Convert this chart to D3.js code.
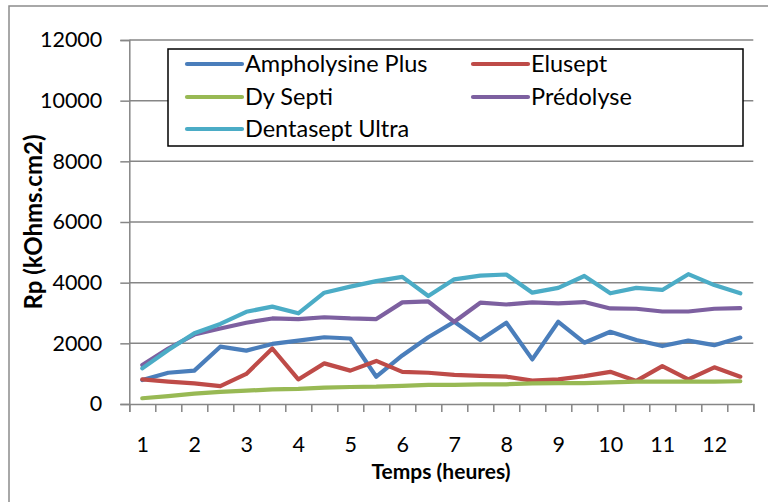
<!DOCTYPE html>
<html><head><meta charset="utf-8">
<script src="https://cdn.jsdelivr.net/npm/d3@7"></script>
<style>body{margin:0;background:#fff}svg{display:block}text{font-family:Lato,"Open Sans",sans-serif}</style>
</head><body>
<svg id="c" width="768" height="502"></svg>
<script>
const hours = [1,1.5,2,2.5,3,3.5,4,4.5,5,5.5,6,6.5,7,7.5,8,8.5,9,9.5,10,10.5,11,11.5,12,12.5];
const hourLabels = [1,2,3,4,5,6,7,8,9,10,11,12];
const yTicks = [0,2000,4000,6000,8000,10000,12000];
const seriesNames = ["Ampholysine Plus","Elusept","Dy Septi","Prédolyse","Dentasept Ultra"];
const seriesColors = ["#4A7EBB","#BE4B48","#98B954","#7D60A0","#4BACC6"];
const ampholysine = [790,1030,1100,1890,1760,1980,2090,2200,2160,900,1600,2200,2710,2110,2680,1470,2710,2020,2380,2110,1910,2090,1940,2190];
const elusept = [810,740,680,590,990,1830,810,1340,1100,1420,1060,1030,960,930,900,770,810,920,1060,760,1250,810,1210,900];
const dySepti = [190,260,340,400,440,480,500,540,560,570,600,630,630,650,650,680,690,690,710,735,735,735,735,750];
const predolyse = [1285,1830,2290,2490,2680,2820,2800,2860,2820,2800,3350,3380,2710,3340,3280,3350,3320,3360,3150,3140,3050,3050,3140,3160];
const dentasept = [1175,1780,2330,2640,3040,3210,2990,3670,3870,4050,4190,3560,4110,4230,4270,3670,3830,4220,3650,3830,3760,4280,3920,3650];
const seriesValues = [ampholysine, elusept, dySepti, predolyse, dentasept];

const svg = d3.select("#c");
const L = 129.3, R = 753.3, T = 40, B = 404;
const x = d3.scaleLinear().domain([0.75, 12.75]).range([L, R]);
const y = d3.scaleLinear().domain([0, 12000]).range([B, T]);
const grid = "#868686";

// outer border (only top/left visible)
svg.append("rect").attr("x", 9).attr("y", 6).attr("width", 800).attr("height", 600)
  .attr("fill", "none").attr("stroke", "#8c8c8c").attr("stroke-width", 1.5);

// gridlines
svg.append("g").selectAll("line").data(yTicks.filter(d => d > 0)).join("line")
  .attr("x1", L).attr("x2", R).attr("y1", d => y(d)).attr("y2", d => y(d))
  .attr("stroke", grid).attr("stroke-width", 1.5);

// y axis
const gy = svg.append("g").attr("transform", `translate(${L},0)`)
  .call(d3.axisLeft(y).tickValues(yTicks).tickSize(9).tickPadding(18).tickFormat(d3.format("d")));
gy.select(".domain").attr("stroke", grid).attr("stroke-width", 1.5);
gy.selectAll(".tick line").attr("stroke", grid).attr("stroke-width", 1.5);
gy.selectAll(".tick text").attr("font-size", 21.5).attr("fill", "#000").attr("font-family", "Lato");

// x axis tick marks at category boundaries
const bounds = hours.map(h => h - 0.25).concat([hours[hours.length - 1] + 0.25]);
const gxt = svg.append("g").attr("transform", `translate(0,${B})`)
  .call(d3.axisBottom(x).tickValues(bounds).tickSize(8).tickFormat(""));
gxt.select(".domain").attr("stroke", grid).attr("stroke-width", 1.5);
gxt.selectAll(".tick line").attr("stroke", grid).attr("stroke-width", 1.5);
// x labels
const gx = svg.append("g").attr("transform", `translate(0,${B})`)
  .call(d3.axisBottom(x).tickValues(hourLabels).tickSize(0).tickPadding(33).tickFormat(d3.format("d")));
gx.select(".domain").remove();
gx.selectAll(".tick text").attr("font-size", 21.5).attr("fill", "#000").attr("font-family", "Lato");

// lines
const line = d3.line().x((d, i) => x(hours[i])).y(d => y(d));
seriesValues.forEach((vals, k) => {
  svg.append("path").datum(vals).attr("d", line).attr("fill", "none")
    .attr("stroke", seriesColors[k]).attr("stroke-width", 4.2)
    .attr("stroke-linejoin", "round").attr("stroke-linecap", "round");
});

// axis titles
svg.append("text").attr("x", 441).attr("y", 479).attr("text-anchor", "middle")
  .attr("font-size", 21).attr("font-weight", "bold").text("Temps (heures)");
svg.append("text").attr("transform", "translate(42,222) rotate(-90)").attr("text-anchor", "middle")
  .attr("font-size", 24).attr("font-weight", "bold").text("Rp (kOhms.cm2)");

// legend
const lg = svg.append("g");
lg.append("rect").attr("x", 168).attr("y", 49).attr("width", 575).attr("height", 97)
  .attr("fill", "#fff").attr("stroke", "#000").attr("stroke-width", 1.5);
const legPos = [[187, 64], [473, 64], [187, 97], [473, 97], [187, 129]];
seriesNames.forEach((n, k) => {
  const [lx, ly] = legPos[k];
  lg.append("line").attr("x1", lx).attr("x2", lx + 55).attr("y1", ly).attr("y2", ly)
    .attr("stroke", seriesColors[k]).attr("stroke-width", 4.2).attr("stroke-linecap", "round");
  lg.append("text").attr("x", lx + 58).attr("y", ly).attr("dy", "0.36em")
    .attr("font-size", 23.5).attr("fill", "#000").text(n);
});
</script>
</body></html>
